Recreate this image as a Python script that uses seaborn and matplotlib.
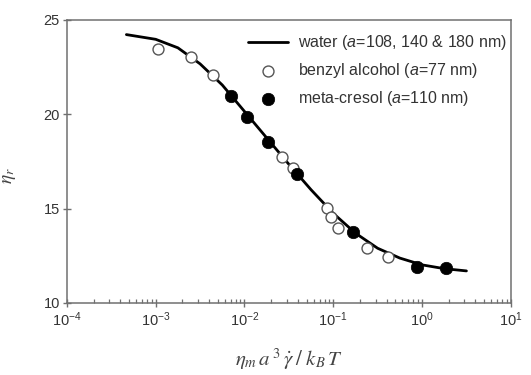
import numpy as np
import pandas as pd
import matplotlib
matplotlib.use("Agg")
import matplotlib.pyplot as plt
import seaborn as sns
from matplotlib.ticker import LogLocator, LogFormatterMathtext, NullFormatter

# fitted curve for water (log10 x, eta_r)
curve_logx = [-3.33, -3.0, -2.75, -2.5, -2.25, -2.0, -1.75, -1.5, -1.25,
              -1.0, -0.75, -0.5, -0.25, 0.0, 0.25, 0.5]
curve_eta = [24.22, 23.97, 23.52, 22.67, 21.55, 20.15, 18.75, 17.35, 16.0,
             14.75, 13.7, 12.9, 12.38, 12.02, 11.82, 11.7]

# benzyl alcohol (open circles)
benzyl_x = [1.05e-3, 2.49e-3, 4.38e-3, 2.62e-2, 3.54e-2, 0.084, 0.0955, 0.1135, 0.237, 0.415]
benzyl_eta = [23.45, 23.02, 22.07, 17.76, 17.14, 15.02, 14.58, 13.96, 12.9, 12.42]

# meta-cresol (filled circles)
cresol_x = [7.0e-3, 1.06e-2, 1.85e-2, 3.86e-2, 0.166, 0.88, 1.84]
cresol_eta = [20.99, 19.88, 18.55, 16.84, 13.75, 11.93, 11.84]

sns.set_style("ticks")
plt.rcParams['font.family'] = ['Liberation Sans', 'DejaVu Sans']
plt.rcParams['mathtext.fontset'] = 'custom'
plt.rcParams['mathtext.rm'] = 'Liberation Sans'
plt.rcParams['mathtext.it'] = 'Liberation Sans:italic'

curve = pd.DataFrame({'x': 10 ** np.array(curve_logx), 'eta': curve_eta})

fig = plt.figure(figsize=(5.31, 3.75), dpi=100)
ax = fig.add_axes([0.126, 0.192, 0.836, 0.755])

sns.lineplot(data=curve, x='x', y='eta', ax=ax, color='black', linewidth=2.0,
             label=r'water ($a$=108, 140 & 180 nm)')
sns.scatterplot(x=benzyl_x, y=benzyl_eta, ax=ax, marker='o', s=62,
                facecolor='white', edgecolor='#555555', linewidth=1.0,
                label=r'benzyl alcohol ($a$=77 nm)', zorder=3)
sns.scatterplot(x=cresol_x, y=cresol_eta, ax=ax, marker='o', s=80,
                color='black', edgecolor='black', linewidth=0.5,
                label=r'meta-cresol ($a$=110 nm)', zorder=4)

ax.set_xscale('log')
ax.set_xlim(1e-4, 10)
ax.set_ylim(10, 25)
ax.set_yticks([10, 15, 20, 25])
ax.xaxis.set_major_locator(LogLocator(base=10, numticks=10))
ax.xaxis.set_major_formatter(LogFormatterMathtext())
ax.xaxis.set_minor_locator(LogLocator(base=10, subs=np.arange(2, 10), numticks=20))
ax.xaxis.set_minor_formatter(NullFormatter())

for s in ax.spines.values():
    s.set_color('#707070')
    s.set_linewidth(1.1)
ax.tick_params(axis='both', which='major', direction='inout', length=6,
               width=1.0, color='#707070', labelsize=10.5, labelcolor='#333333', pad=2)
ax.tick_params(axis='x', which='minor', direction='in', length=3, width=0.9,
               color='#707070')

ax.set_ylabel(r'$\eta_r$', fontsize=14, color='#444444')
ax.yaxis.set_label_coords(-0.11, 0.45)
ax.set_xlabel(r'$\eta_m\, a^{\,3}\,\dot{\gamma}\;/\;k_B\,T$', fontsize=15,
              color='#444444', labelpad=13)
ax.xaxis.label.set_math_fontfamily('stix')
ax.yaxis.label.set_math_fontfamily('stix')

leg = ax.legend(loc='upper right', bbox_to_anchor=(1.005, 0.975), frameon=False,
                fontsize=11.5, handlelength=2.5, handletextpad=0.6,
                labelspacing=0.55, borderaxespad=0, borderpad=0.4)
for t in leg.get_texts():
    t.set_color('#333333')

fig.savefig('out.png', dpi=100)
